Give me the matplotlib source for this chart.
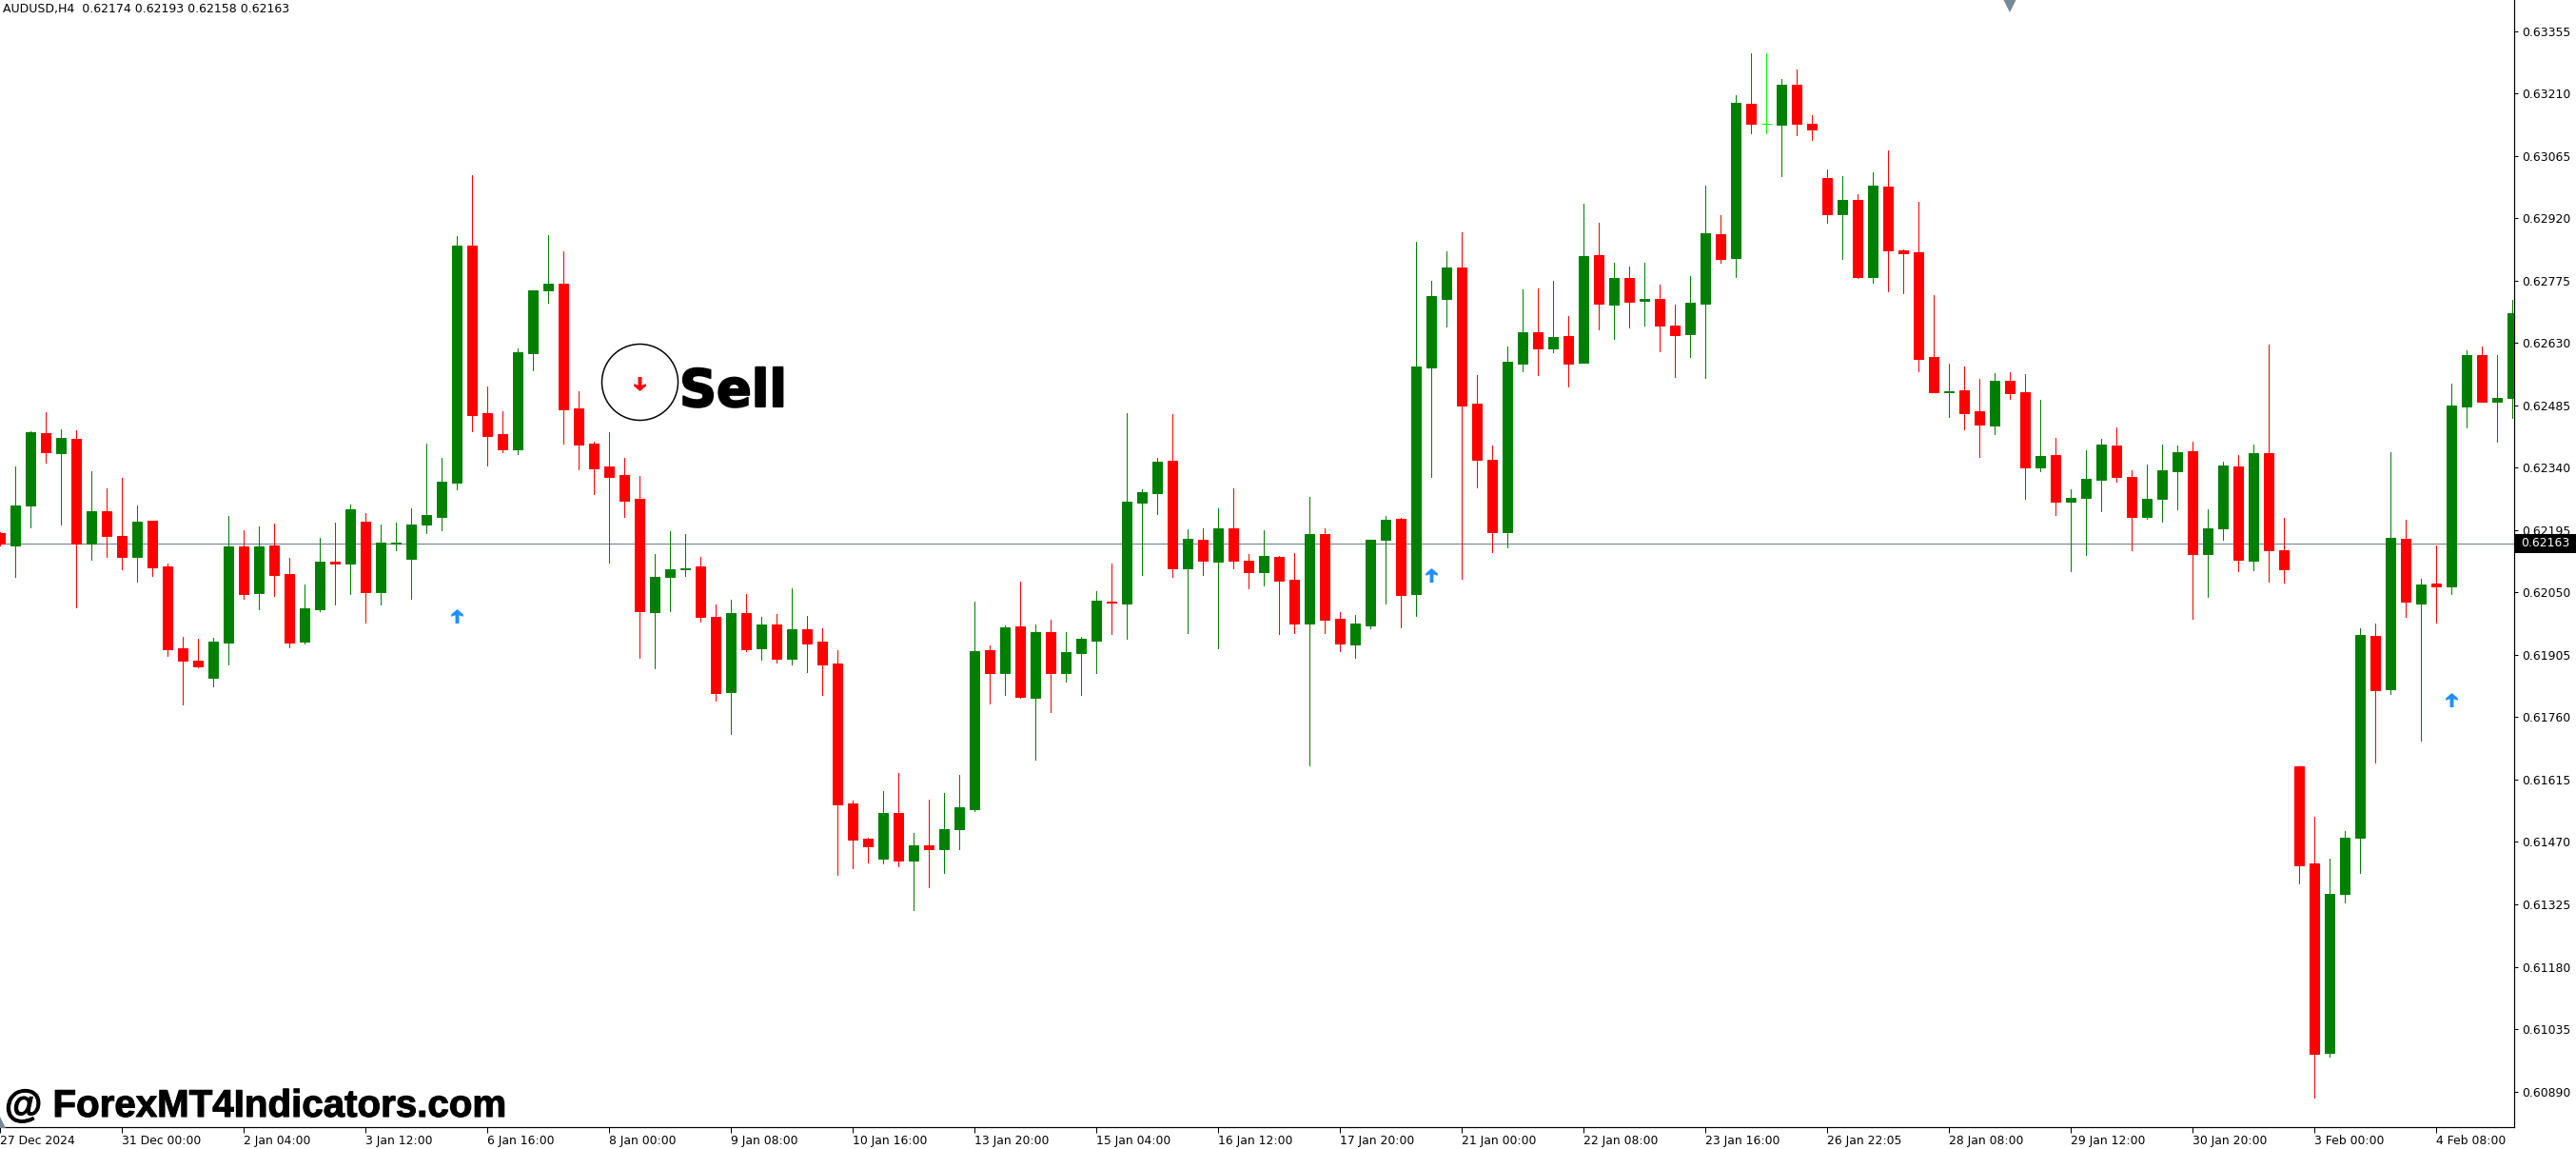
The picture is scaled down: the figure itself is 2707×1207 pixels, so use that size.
import numpy as np
import matplotlib
matplotlib.use("Agg")
import matplotlib.pyplot as plt
import matplotlib.patches as mpatches
import matplotlib.patheffects as pe

W, H = 2707, 1207

# AUDUSD H4 candles, prices in points (1e-5)
opens = [
    62188, 62160, 62252, 62421, 62375, 62407, 62163, 62239, 62182, 62133,
    62217, 62111, 61921, 61892, 61852, 61934, 62158, 62049, 62160, 62093,
    61936, 62012, 62122, 62117, 62215, 62051, 62164, 62129, 62208, 62226,
    62306, 62857, 62467, 62419, 62384, 62607, 62753, 62769, 62478, 62397,
    62343, 62323, 62268, 62005, 62086, 62104, 62111, 61994, 61818, 62003,
    61920, 61976, 61896, 61965, 61936, 61886, 61560, 61478, 61431, 61538,
    61427, 61462, 61454, 61500, 61547, 61916, 61863, 61971, 61806, 61959,
    61863, 61910, 61938, 62029, 62025, 62259, 62281, 62357, 62106, 62173,
    62122, 62199, 62124, 62097, 62133, 62080, 61978, 62186, 61989, 61929,
    61973, 62173, 62221, 62046, 62573, 62734, 62805, 62489, 62358, 62190,
    62582, 62655, 62617, 62646, 62584, 62834, 62720, 62781, 62728, 62734,
    62672, 62650, 62721, 62883, 62828, 63186, 63140, 63138, 63231, 63140,
    63015, 62931, 62963, 62784, 62994, 62846, 62841, 62598, 62516, 62520,
    62471, 62438, 62542, 62516, 62341, 62370, 62261, 62270, 62312, 62392,
    62319, 62226, 62268, 62332, 62378, 62139, 62199, 62343, 62124, 62374,
    62148, 61645, 61421, 60979, 61350, 61479, 61949, 61825, 62175, 62024,
    62071, 62064, 62483, 62602, 62494, 62502,
]
highs = [
    62190, 62343, 62425, 62469, 62430, 62427, 62332, 62292, 62317, 62252,
    62217, 62117, 61947, 61942, 61945, 62229, 62195, 62203, 62210, 62131,
    62069, 62177, 62213, 62255, 62235, 62208, 62213, 62246, 62397, 62363,
    62879, 63020, 62530, 62472, 62618, 62753, 62881, 62844, 62518, 62401,
    62423, 62363, 62321, 62139, 62193, 62186, 62133, 62023, 62033, 62047,
    61994, 62000, 62060, 61996, 61967, 61916, 61567, 61480, 61589, 61630,
    61490, 61569, 61584, 61626, 62029, 61927, 61974, 62076, 61976, 61986,
    61959, 61947, 62054, 62118, 62467, 62291, 62364, 62465, 62198, 62199,
    62246, 62293, 62139, 62195, 62135, 62142, 62272, 62199, 62004, 61998,
    62173, 62228, 62223, 62865, 62775, 62843, 62888, 62555, 62391, 62622,
    62755, 62757, 62775, 62692, 62954, 62909, 62817, 62808, 62818, 62766,
    62720, 62785, 62996, 62927, 63206, 63303, 63303, 63244, 63266, 63160,
    63034, 63018, 62976, 63027, 63078, 62848, 62959, 62742, 62582, 62576,
    62547, 62560, 62562, 62558, 62498, 62409, 62290, 62381, 62407, 62434,
    62334, 62348, 62394, 62392, 62401, 62243, 62354, 62370, 62394, 62626,
    62224, 61645, 61529, 61432, 61496, 61967, 61978, 62376, 62219, 62081,
    62159, 62536, 62613, 62622, 62602, 62731,
]
lows = [
    62160, 62087, 62201, 62352, 62208, 62016, 62126, 62133, 62104, 62075,
    62089, 61903, 61790, 61876, 61832, 61883, 62036, 62012, 62042, 61923,
    61932, 62007, 62022, 62047, 61980, 62022, 62149, 62036, 62188, 62195,
    62290, 62425, 62346, 62377, 62372, 62567, 62724, 62397, 62337, 62279,
    62120, 62226, 61899, 61874, 62007, 62089, 61983, 61799, 61721, 61914,
    61894, 61887, 61883, 61865, 61812, 61394, 61409, 61423, 61420, 61413,
    61311, 61365, 61398, 61454, 61542, 61792, 61812, 61806, 61662, 61772,
    61843, 61812, 61863, 61954, 61943, 62091, 62233, 62086, 61956, 62091,
    61920, 62106, 62060, 62066, 61953, 61956, 61648, 61956, 61914, 61898,
    61967, 62024, 61969, 61995, 62319, 62668, 62082, 62294, 62144, 62155,
    62565, 62555, 62608, 62529, 62584, 62662, 62640, 62666, 62672, 62611,
    62551, 62597, 62549, 62817, 62783, 63118, 63119, 63018, 63113, 63102,
    62909, 62825, 62781, 62770, 62750, 62746, 62564, 62516, 62458, 62429,
    62365, 62418, 62500, 62268, 62332, 62230, 62100, 62137, 62239, 62308,
    62148, 62221, 62215, 62243, 61989, 62040, 62173, 62100, 62102, 62075,
    62073, 61374, 60875, 60970, 61330, 61399, 61654, 61815, 61993, 61705,
    61980, 62046, 62434, 62494, 62401, 62456,
]
closes = [
    62163, 62252, 62423, 62377, 62410, 62163, 62239, 62182, 62133, 62215,
    62109, 61919, 61892, 61879, 61936, 62158, 62047, 62158, 62091, 61934,
    62013, 62122, 62117, 62243, 62051, 62166, 62166, 62208, 62230, 62308,
    62857, 62463, 62414, 62384, 62609, 62753, 62769, 62476, 62394, 62339,
    62319, 62264, 62007, 62087, 62104, 62107, 61994, 61816, 62003, 61918,
    61976, 61896, 61965, 61932, 61883, 61557, 61476, 61460, 61538, 61427,
    61462, 61454, 61500, 61551, 61914, 61863, 61969, 61808, 61959, 61863,
    61911, 61943, 62031, 62027, 62262, 62284, 62354, 62106, 62175, 62125,
    62199, 62125, 62097, 62135, 62077, 61978, 62186, 61987, 61931, 61978,
    62173, 62219, 62044, 62575, 62739, 62805, 62485, 62358, 62190, 62587,
    62655, 62617, 62644, 62582, 62832, 62721, 62781, 62726, 62734, 62671,
    62649, 62724, 62885, 62825, 63189, 63140, 63140, 63232, 63140, 63128,
    62930, 62963, 62784, 62996, 62846, 62839, 62593, 62516, 62518, 62467,
    62440, 62542, 62514, 62341, 62367, 62261, 62270, 62314, 62394, 62319,
    62226, 62268, 62334, 62376, 62139, 62199, 62345, 62126, 62374, 62148,
    62104, 61416, 60977, 61350, 61479, 61951, 61822, 62177, 62028, 62069,
    62064, 62485, 62602, 62494, 62502, 62700,
]

# indicator arrows: bar index, price in points
buy_bars = [30, 94, 161]
buy_prices = [61996, 62091, 61801]
sell_bars = [42]
sell_prices = [62536]

y_ticks = [63355, 63210, 63065, 62920, 62775, 62630, 62485, 62340, 62195,
           62050, 61905, 61760, 61615, 61470, 61325, 61180, 61035, 60890]
x_tick_bars = list(range(0, 161, 8))
x_tick_labels = [
    "27 Dec 2024", "31 Dec 00:00", "2 Jan 04:00", "3 Jan 12:00", "6 Jan 16:00",
    "8 Jan 00:00", "9 Jan 08:00", "10 Jan 16:00", "13 Jan 20:00", "15 Jan 04:00",
    "16 Jan 12:00", "17 Jan 20:00", "21 Jan 00:00", "22 Jan 08:00", "23 Jan 16:00",
    "26 Jan 22:05", "28 Jan 08:00", "29 Jan 12:00", "30 Jan 20:00", "3 Feb 00:00",
    "4 Feb 08:00",
]
last_price = 62163

GREEN = "#008000"
RED = "#ff0000"
LIME = "#00ff00"
SLATE = "#778899"
BLUE = "#1e90ff"
PX = 0.72  # one pixel in points at dpi 100

plt.rcParams.update({"font.family": "DejaVu Sans", "font.size": 9})

fig = plt.figure(figsize=(W / 100, H / 100), dpi=100, facecolor="white")
ax = fig.add_axes([0, 23 / H, 2642 / W, 1184 / H])

o = np.array(opens) / 1e5
h = np.array(highs) / 1e5
l = np.array(lows) / 1e5
c = np.array(closes) / 1e5
bars = np.arange(len(o))
colors = [LIME if a == b else (GREEN if b > a else RED) for a, b in zip(o, c)]

# current bid line goes under the candles
ax.axhline(last_price / 1e5, color=SLATE, lw=1.2 * PX, zorder=1)
ax.vlines(bars, l, h, colors=colors, lw=PX, antialiased=False, zorder=2)
ax.bar(bars, np.abs(c - o), bottom=np.minimum(o, c), width=10 / 16, color=colors,
       edgecolor=colors, lw=PX, zorder=3)

# arrows as a small custom marker
up_arrow = [(-0.13, -0.5), (0.13, -0.5), (0.13, 0.08), (0.42, -0.02), (0.42, 0.14),
            (0.0, 0.5), (-0.42, 0.14), (-0.42, -0.02), (-0.13, 0.08)]
down_arrow = [(x, -y) for x, y in up_arrow]
ax.plot(buy_bars, np.array(buy_prices) / 1e5, ls="", marker=up_arrow, ms=15 * PX,
        color=BLUE, mew=0, zorder=4)
ax.plot(sell_bars, np.array(sell_prices) / 1e5, ls="", marker=down_arrow, ms=15 * PX,
        color=RED, mew=0, zorder=4)
ax.plot(sell_bars, [0.62540], ls="", marker="o", ms=80 * PX, mfc="none", mec="black",
        mew=1.5 * PX, zorder=4)

ax.set_xlim(-0.0, 2642 / 16)
ax.set_ylim(0.60807, 0.63428)

# chart shift markers on the edges
ax.plot([132], [0.63428], marker="v", ms=26 * PX, color=SLATE, mew=0, zorder=5)
ax.plot([0], [0.60807], marker="^", ms=22 * PX, color=SLATE, mew=0, zorder=5)

ax.yaxis.tick_right()
ax.set_yticks(np.array(y_ticks) / 1e5)
ax.set_yticklabels([f"{t / 1e5:.5f}" for t in y_ticks])
ax.set_xticks(x_tick_bars)
ax.set_xticklabels(x_tick_labels, ha="left")
ax.tick_params(axis="y", length=3, width=PX, pad=3, labelsize=8.9)
ax.tick_params(axis="x", length=4, width=PX, pad=1.5, labelsize=8.9)
ax.spines["top"].set_visible(False)
ax.spines["left"].set_visible(False)
ax.spines["right"].set_linewidth(PX * 1.2)
ax.spines["bottom"].set_linewidth(PX * 1.2)

# price tag on the scale
fig.add_artist(mpatches.Rectangle((2643 / W, 1 - 581 / H), 64 / W, 20 / H,
                                  transform=fig.transFigure, color="black", lw=0))
fig.text(2649 / W, 1 - 571 / H, f"{last_price / 1e5:.5f}", color="white",
         fontsize=8.9, va="center", ha="left")

fig.text(3 / W, 1 - 10 / H, "AUDUSD,H4  0.62174 0.62193 0.62158 0.62163",
         fontsize=9, va="center", ha="left", color="black")

fig.text(714 / W, 1 - 427 / H, "Sell", fontsize=39, fontweight="bold", va="baseline",
         ha="left", color="black",
         path_effects=[pe.withStroke(linewidth=1.5, foreground="black")])

fig.text(5 / W, 1 - 1173 / H, "@ ForexMT4Indicators.com", fontsize=29, fontweight="bold",
         family="Liberation Sans", va="baseline", ha="left", color="black",
         path_effects=[pe.withStroke(linewidth=0.8, foreground="black")])

fig.savefig("out.png", dpi=100, facecolor="white")
